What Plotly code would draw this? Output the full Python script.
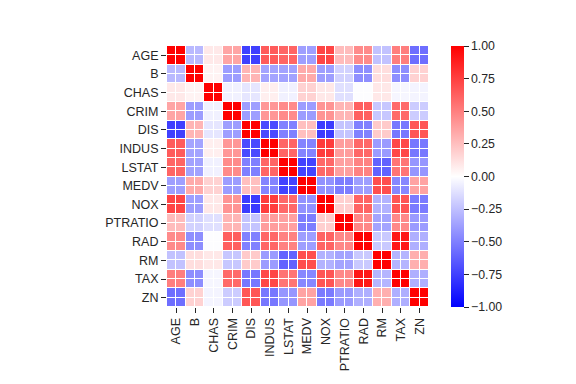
import numpy as np
import plotly.graph_objects as go

labels = ["AGE", "B", "CHAS", "CRIM", "DIS", "INDUS", "LSTAT", "MEDV",
          "NOX", "PTRATIO", "RAD", "RM", "TAX", "ZN"]

AGE = [1, -0.274, 0.087, 0.353, -0.748, 0.645, 0.602, -0.377, 0.731, 0.262, 0.456, -0.240, 0.506, -0.570]
B = [-0.274, 1, 0.049, -0.385, 0.292, -0.357, -0.366, 0.333, -0.380, -0.177, -0.444, 0.128, -0.442, 0.176]
CHAS = [0.087, 0.049, 1, -0.056, -0.099, 0.063, -0.054, 0.175, 0.091, -0.122, -0.007, 0.091, -0.036, -0.043]
CRIM = [0.353, -0.385, -0.056, 1, -0.380, 0.407, 0.456, -0.388, 0.421, 0.290, 0.626, -0.219, 0.583, -0.200]
DIS = [-0.748, 0.292, -0.099, -0.380, 1, -0.708, -0.497, 0.250, -0.769, -0.232, -0.495, 0.205, -0.534, 0.664]
INDUS = [0.645, -0.357, 0.063, 0.407, -0.708, 1, 0.604, -0.484, 0.764, 0.383, 0.595, -0.392, 0.721, -0.534]
LSTAT = [0.602, -0.366, -0.054, 0.456, -0.497, 0.604, 1, -0.738, 0.591, 0.374, 0.489, -0.614, 0.544, -0.413]
MEDV = [-0.377, 0.333, 0.175, -0.388, 0.250, -0.484, -0.738, 1, -0.427, -0.508, -0.382, 0.695, -0.469, 0.360]
NOX = [0.731, -0.380, 0.091, 0.421, -0.769, 0.764, 0.591, -0.427, 1, 0.189, 0.611, -0.302, 0.668, -0.517]
PTRATIO = [0.262, -0.177, -0.122, 0.290, -0.232, 0.383, 0.374, -0.508, 0.189, 1, 0.465, -0.356, 0.461, -0.392]
RAD = [0.456, -0.444, -0.007, 0.626, -0.495, 0.595, 0.489, -0.382, 0.611, 0.465, 1, -0.210, 0.910, -0.312]
RM = [-0.240, 0.128, 0.091, -0.219, 0.205, -0.392, -0.614, 0.695, -0.302, -0.356, -0.210, 1, -0.292, 0.312]
TAX = [0.506, -0.442, -0.036, 0.583, -0.534, 0.721, 0.544, -0.469, 0.668, 0.461, 0.910, -0.292, 1, -0.315]
ZN = [-0.570, 0.176, -0.043, -0.200, 0.664, -0.534, -0.413, 0.360, -0.517, -0.392, -0.312, 0.312, -0.315, 1]

corr = np.array([AGE, B, CHAS, CRIM, DIS, INDUS, LSTAT, MEDV, NOX, PTRATIO, RAD, RM, TAX, ZN])

# each cell is drawn as 2x2 sub-cells (as in the reference rendering)
z = np.repeat(np.repeat(corr, 2, axis=0), 2, axis=1)
n = len(labels)
pos = np.repeat(np.arange(n), 2) + np.tile([-0.25, 0.25], n)

FONT = "Liberation Sans, Arial, sans-serif"
TICKC = "#262626"

fig = go.Figure(go.Heatmap(
    z=z, x=pos, y=pos,
    zmin=-1, zmax=1,
    colorscale=[[0, "rgb(0,0,255)"], [0.5, "rgb(255,255,255)"], [1, "rgb(255,0,0)"]],
    xgap=1, ygap=1,
    colorbar=dict(
        x=1.084, xanchor="left", y=0.5, yanchor="middle",
        len=1.0, lenmode="fraction", thickness=13,
        xpad=0, ypad=0,
        outlinewidth=0,
        tickvals=[-1, -0.75, -0.5, -0.25, 0, 0.25, 0.5, 0.75, 1],
        tickformat=".2f",
        ticks="outside", ticklen=5, tickcolor=TICKC, tickwidth=1,
        tickfont=dict(family=FONT, size=12.3, color=TICKC),
    ),
))

fig.update_xaxes(
    tickvals=list(range(n)), ticktext=labels, tickangle=-90,
    range=[-0.5, n - 0.5], showgrid=False, zeroline=False,
    ticks="outside", ticklen=5, tickcolor=TICKC, tickwidth=1,
    tickfont=dict(family=FONT, size=12.5, color=TICKC),
)
fig.update_yaxes(
    tickvals=list(range(n)), ticktext=labels,
    range=[n - 0.5, -0.5], showgrid=False, zeroline=False,
    ticks="outside", ticklen=5, tickcolor=TICKC, tickwidth=1,
    tickfont=dict(family=FONT, size=12.5, color=TICKC),
)

# page body adds an 8px offset; margins compensate for it
fig.update_layout(
    width=576, height=384,
    margin=dict(l=159, r=155, t=38, b=85, autoexpand=False),
    paper_bgcolor="white", plot_bgcolor="white",
)

fig.write_html("out.html")
